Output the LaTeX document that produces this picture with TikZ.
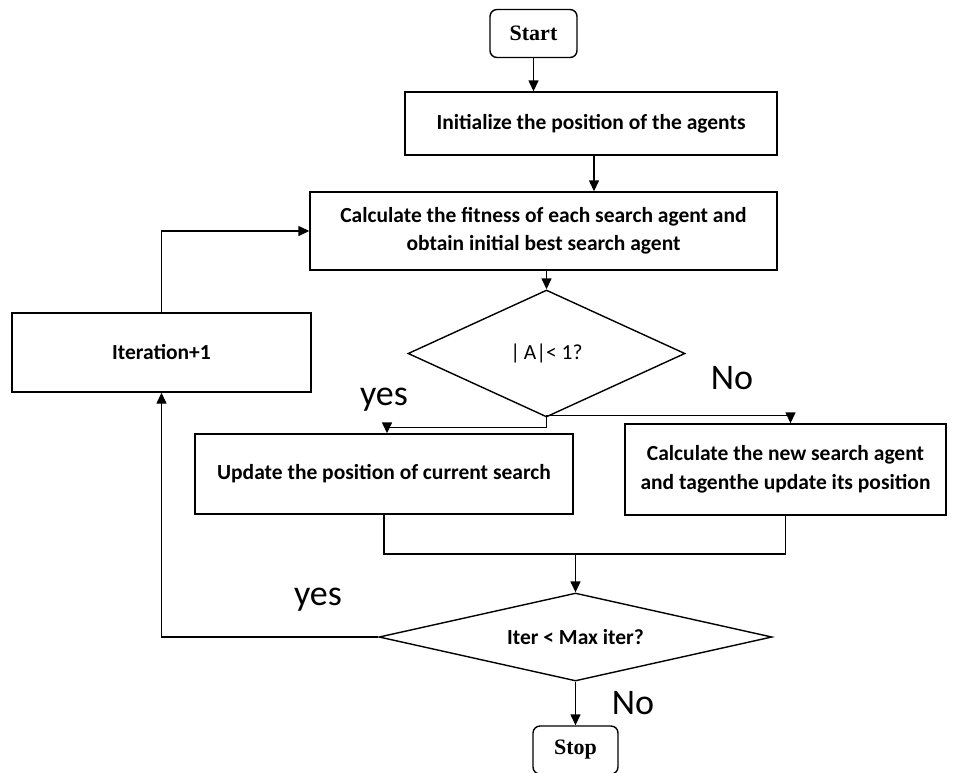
\documentclass[tikz,border=0pt]{standalone}
\usepackage{fontspec}
\setmainfont{Carlito}
\newfontfamily\tnr{Liberation Serif}
\usetikzlibrary{shapes.geometric,arrows.meta}
\begin{document}
\begin{tikzpicture}[x=1pt,y=-1pt,
  line width=1.4pt,
  box/.style={draw,rectangle,inner sep=0pt,align=center,font=\fontsize{21.5}{28.5}\selectfont\bfseries},
  term/.style={draw,rectangle,rounded corners=7pt,inner sep=0pt,font=\tnr\fontsize{22}{24}\selectfont\bfseries},
  dia/.style={draw,diamond,inner sep=0pt},
  lbl/.style={font=\fontsize{36}{40}\selectfont},
  arr/.style={-{Triangle[length=11pt,width=10pt]}}]
\useasboundingbox (0,0) rectangle (965,772);
\fill[white] (0,0) rectangle (965,772);
\node[term,minimum width=87pt,minimum height=48pt] (start) at (533.5,33.5) {Start};
\node[box,minimum width=372pt,minimum height=63pt] (init) at (591,123.5) {Initialize the position of the agents};
\node[box,minimum width=467pt,minimum height=78pt] (calc) at (543.5,231) {Calculate the fitness of each search agent and\\obtain initial best search agent};
\node[box,minimum width=299pt,minimum height=79pt] (iter) at (161.5,352.5) {Iteration+1};
\node[dia,aspect=2.2,minimum width=277pt,minimum height=127pt,font=\fontsize{21.5}{24}\selectfont] (d1) at (546.5,353.5) {|\,A|< 1?};
\node[box,minimum width=378pt,minimum height=80pt] (update) at (384,474) {Update the position of current search};
\node[box,minimum width=321pt,minimum height=91pt] (newag) at (785.5,469.5) {Calculate the new search agent\\and tagenthe update its position};
\node[dia,aspect=4.5,minimum width=393pt,minimum height=88pt,font=\fontsize{21.5}{24}\selectfont\bfseries] (d2) at (575.5,637) {Iter < Max iter?};
\node[term,minimum width=85pt,minimum height=48pt] (stop) at (575.5,750) {Stop};
\coordinate (j) at (575.5,554);
\node[lbl] (yes1) at (384,400) {yes};
\node[lbl] (no1) at (732,378) {No};
\node[lbl] (yes2) at (318,600) {yes};
\node[lbl] (no2) at (633,703) {No};
\draw[arr] (start.south) -- (start.south |- init.north);
\draw[arr] ([xshift=3pt]init.south) -- ([xshift=3pt]init.south |- calc.north);
\draw[arr] (calc.south -| d1.north) -- (d1.north);
\draw[arr] (d1.south) -- ++(0,10) -| ([xshift=3pt]update.north);
\draw[arr] (d1.south) -- ++(0,-2) -| ([xshift=5pt]newag.north);
\draw (update.south) |- (j) -| (newag.south);
\draw[arr] (j) -- (d2.north);
\draw[arr] (d2.west) -| (iter.south);
\draw[arr] (iter.north) |- (calc.west);
\draw[arr] (d2.south) -- (stop.north);
\end{tikzpicture}
\end{document}
